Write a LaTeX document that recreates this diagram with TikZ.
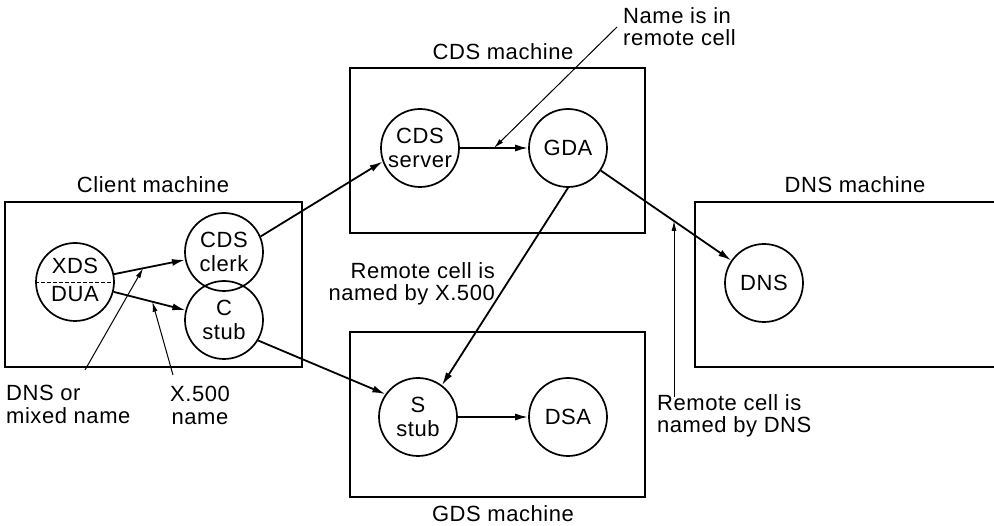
\documentclass[tikz,border=0pt]{standalone}
\usepackage{fontspec}
\setmainfont{Liberation Sans}[LetterSpace=2.5]
\usetikzlibrary{arrows.meta}
\begin{document}
\begin{tikzpicture}[x=1pt,y=-1pt,
  box/.style={line width=1.9pt},
  proc/.style={circle,draw,line width=1.7pt,minimum size=78pt,inner sep=0pt,align=center,font=\fontsize{22}{24}\selectfont},
  lbl/.style={inner sep=0pt,font=\fontsize{22}{22.5}\selectfont},
  flow/.style={line width=1.8pt,-{Latex[length=13pt,width=7pt]}},
  lead/.style={line width=1pt,-{Latex[length=10pt,width=5pt]}},
]
\useasboundingbox (0,0) rectangle (994,526);

% machine boxes
\draw[box] (5,202) rectangle (302,367);
\draw[box] (350,68) rectangle (645,233);
\draw[box] (350,332) rectangle (645,497);
\draw[box] (997,202) -- (695,202) -- (695,367) -- (997,367);

\node[lbl] (clientlbl) at (153,185) {Client machine};
\node[lbl] (cdslbl) at (503,52) {CDS machine};
\node[lbl] (dnslbl) at (855,185) {DNS machine};
\node[lbl] (gdslbl) at (503,514) {GDS machine};

% processes
\node[proc] (xds) at (75,282) {};
\draw[dashed,dash pattern=on 4pt off 2pt,line width=0.9pt] (xds.west) -- (xds.east);
\node[lbl,anchor=base] (xdst) at (75,274) {XDS};
\node[lbl,anchor=base] (duat) at (75,302) {DUA};
\node[proc] (clerk) at (224,252) {CDS\\clerk};
\node[proc] (cstub) at (224,320) {C\\stub};
\node[proc] (server) at (420,148) {CDS\\server};
\node[proc] (gda) at (568,148) {GDA};
\node[proc] (sstub) at (418,417) {S\\stub};
\node[proc] (dsa) at (568,417) {DSA};
\node[proc] (dns) at (764,283) {DNS};

% flows
\draw[flow] (xds) -- coordinate[pos=0.41] (m1) (clerk);
\draw[flow] (xds) -- coordinate[pos=0.54] (m2) (cstub);
\draw[flow] (clerk.23) -- (server.200);
\draw[flow] (cstub.-31) -- (sstub.145);
\draw[flow] (server) -- coordinate[pos=0.5] (nm) (gda);
\draw[flow] (gda) -- coordinate[pos=0.56] (dm) (dns);
\draw[flow] (gda.south) -- (sstub.53);
\draw[flow] (sstub) -- (dsa);

% labels
\node[lbl,align=left,anchor=north west] (namelbl) at (623,7) {Name is in\\remote cell};
\node[lbl,align=left,anchor=north west] (dnsorlbl) at (6,385) {DNS or\\mixed name};
\node[lbl,align=center,anchor=north] (x5lbl) at (200,386) {X.500\\name};
\node[lbl,align=right,anchor=north east] (rx5lbl) at (495,262) {Remote cell is\\named by X.500};
\node[lbl,align=left,anchor=north west] (rdnslbl) at (657,394) {Remote cell is\\named by DNS};

% leaders
\coordinate (l1) at (85,370);
\coordinate (l2) at (173,375);
\coordinate (l3) at (617,27);
\coordinate (l4) at (674,397);
\draw[lead] (l1) -- (m1);
\draw[lead] (l2) -- (m2);
\draw[lead] (l3) -- (nm);
\draw[lead] (l4) -- (l4 |- dm);
\end{tikzpicture}
\end{document}
